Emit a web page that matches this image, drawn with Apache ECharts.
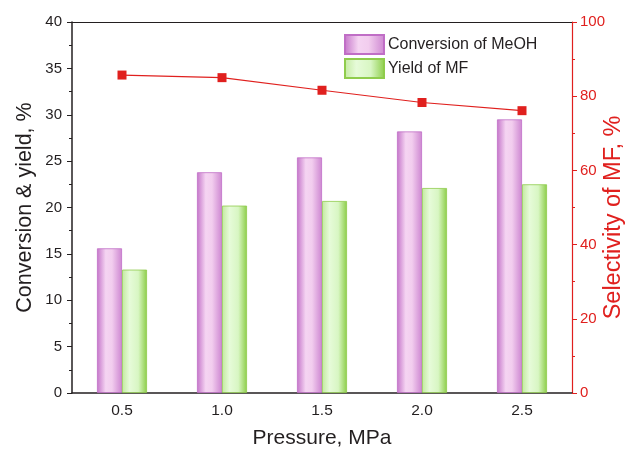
<!DOCTYPE html>
<html>
<head>
<meta charset="utf-8">
<script src="https://cdn.jsdelivr.net/npm/echarts@6/dist/echarts.min.js"></script>
<style>
html,body{margin:0;padding:0;background:#fff;}
#c{width:627px;height:455px;}
</style>
</head>
<body>
<div id="c"></div>
<script>
const categories = ['0.5', '1.0', '1.5', '2.0', '2.5'];
const conversion = [15.6, 23.8, 25.4, 28.2, 29.5];
const yieldMF = [13.3, 20.2, 20.7, 22.1, 22.5];
const selectivity = [85.7, 85.0, 81.6, 78.3, 76.1];

const FONT = 'Liberation Sans, Arial, Helvetica, sans-serif';
const DARK = '#231f20';
const RED = '#e0201e';

const magentaGrad = new echarts.graphic.LinearGradient(0, 0, 1, 0, [
  {offset: 0, color: '#c474c9'},
  {offset: 0.35, color: '#f5d4f2'},
  {offset: 0.6, color: '#f2cdee'},
  {offset: 1, color: '#cd86d1'}
]);
const greenGrad = new echarts.graphic.LinearGradient(0, 0, 1, 0, [
  {offset: 0, color: '#c2ea9e'},
  {offset: 0.3, color: '#e6fbd9'},
  {offset: 0.65, color: '#d8f6c3'},
  {offset: 1, color: '#8ccd48'}
]);

const chart = echarts.init(document.getElementById('c'), null, {renderer: 'canvas'});
chart.setOption({
  animation: false,
  backgroundColor: '#fff',
  textStyle: {fontFamily: FONT},
  grid: {left: 72, right: 55, top: 22, bottom: 62, containLabel: false, outerBoundsMode: 'none'},
  legend: {
    data: ['Conversion of MeOH', 'Yield of MF'],
    orient: 'vertical',
    left: 344, top: 34, padding: 0,
    icon: 'rect',
    itemWidth: 39, itemHeight: 19, itemGap: 3,
    textStyle: {fontSize: 16, color: DARK, fontFamily: FONT, padding: [0, 0, 0, -1]}
  },
  xAxis: [
    {
      type: 'category', data: categories, position: 'bottom',
      name: 'Pressure, MPa', nameLocation: 'middle', nameGap: 35, nameMoveOverlap: false,
      nameTextStyle: {fontSize: 21, color: DARK, fontFamily: FONT},
      axisLine: {lineStyle: {color: DARK, width: 1.5}},
      axisTick: {alignWithLabel: true, length: 5, lineStyle: {color: DARK}},
      axisLabel: {fontSize: 15.5, color: DARK, margin: 10, fontFamily: FONT},
      splitLine: {show: false}
    },
    {
      type: 'category', data: categories, position: 'bottom', gridIndex: 0,
      axisLine: {show: false},
      axisTick: {length: 3, lineStyle: {color: DARK}},
      axisLabel: {show: false}, splitLine: {show: false}
    },
    {
      type: 'category', data: categories, position: 'top',
      axisLine: {lineStyle: {color: DARK, width: 1}},
      axisTick: {alignWithLabel: true, inside: true, length: 4, lineStyle: {color: DARK}},
      axisLabel: {show: false}, splitLine: {show: false}
    },
    {
      type: 'category', data: categories, position: 'top',
      axisLine: {show: false},
      axisTick: {inside: true, length: 3, lineStyle: {color: DARK}},
      axisLabel: {show: false}, splitLine: {show: false}
    }
  ],
  yAxis: [
    {
      type: 'value', min: 0, max: 40, interval: 5, position: 'left',
      name: 'Conversion & yield, %', nameLocation: 'middle', nameGap: 36, nameRotate: 90,
      nameMoveOverlap: false,
      nameTextStyle: {fontSize: 21.5, color: DARK, fontFamily: FONT},
      axisLine: {show: true, lineStyle: {color: DARK, width: 1.5}},
      axisTick: {show: true, length: 5, lineStyle: {color: DARK}},
      minorTick: {show: true, splitNumber: 2, length: 3, lineStyle: {color: DARK}},
      axisLabel: {fontSize: 15, color: DARK, margin: 10, fontFamily: FONT},
      splitLine: {show: false}
    },
    {
      type: 'value', min: 0, max: 100, interval: 20, position: 'right',
      name: 'Selectivity of MF, %', nameLocation: 'middle', nameGap: 30, nameRotate: 90,
      nameMoveOverlap: false,
      nameTextStyle: {fontSize: 23.5, color: RED, fontFamily: FONT, padding: [0, 20, 0, 0]},
      axisLine: {show: true, lineStyle: {color: RED, width: 1.2}},
      axisTick: {show: true, length: 5, lineStyle: {color: RED}},
      minorTick: {show: true, splitNumber: 2, length: 3, lineStyle: {color: RED}},
      axisLabel: {fontSize: 15, color: RED, margin: 8, fontFamily: FONT},
      splitLine: {show: false}
    }
  ],
  series: [
    {
      name: 'Conversion of MeOH', type: 'bar', data: conversion,
      barWidth: 25, barGap: '0%',
      itemStyle: {color: magentaGrad, borderColor: '#c06ec6', borderWidth: 0.8}
    },
    {
      name: 'Yield of MF', type: 'bar', data: yieldMF,
      barWidth: 25, barGap: '0%',
      itemStyle: {color: greenGrad, borderColor: '#8fcc4c', borderWidth: 0.8}
    },
    {
      name: 'Selectivity of MF', type: 'line', yAxisIndex: 1, data: selectivity,
      symbol: 'rect', symbolSize: 9,
      lineStyle: {color: RED, width: 1.2},
      itemStyle: {color: RED}
    }
  ]
});
</script>
</body>
</html>
